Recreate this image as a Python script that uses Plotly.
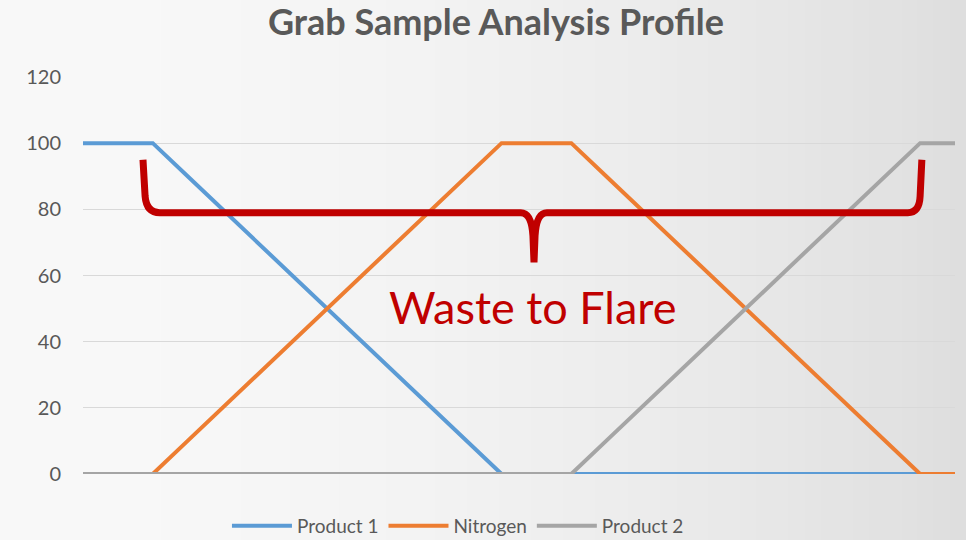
import plotly.graph_objects as go

x_points = list(range(26))
product1 = [100, 100, 100, 90, 80, 70, 60, 50, 40, 30, 20, 10, 0, 0, 0, 0, 0, 0, 0, 0, 0, 0, 0, 0, 0, 0]
nitrogen = [0, 0, 0, 10, 20, 30, 40, 50, 60, 70, 80, 90, 100, 100, 100, 90, 80, 70, 60, 50, 40, 30, 20, 10, 0, 0]
product2 = [0, 0, 0, 0, 0, 0, 0, 0, 0, 0, 0, 0, 0, 0, 0, 10, 20, 30, 40, 50, 60, 70, 80, 90, 100, 100]
series_names = ["Product 1", "Nitrogen", "Product 2"]
series_values = [product1, nitrogen, product2]
series_colors = ["#5B9BD5", "#ED7D31", "#A5A5A5"]
y_ticks = [0, 20, 40, 60, 80, 100, 120]

fig = go.Figure()
for name, vals, col in zip(series_names, series_values, series_colors):
    fig.add_trace(go.Scatter(x=x_points, y=vals, mode="lines", name=name,
                             line=dict(color=col, width=4)))

# background gradient strips
shapes = []
n = 60
x0f, x1f = -0.0952, 1.0126
for i in range(n):
    t = i / (n - 1)
    g = 248 - int(26 * (t ** 1.8))
    xa = x0f + (x1f - x0f) * i / n
    xb = x0f + (x1f - x0f) * (i + 1) / n + 0.002
    shapes.append(dict(type="rect", xref="paper", yref="paper", x0=xa, x1=xb,
                       y0=-0.2, y1=1.25, fillcolor=f"rgb({g},{g},{g})",
                       line=dict(width=0), layer="below"))

# brace
brace = ("M1.72,95 L1.78,84 Q1.82,79 2.2,79 L12.55,79 Q12.86,79 12.9,72 "
         "L12.93,64 L12.96,72 Q13.0,79 13.3,79 L23.65,79 Q23.98,79 24.0,84 L24.05,95")
shapes.append(dict(type="path", xref="x", yref="y", path=brace,
                   line=dict(color="#C00000", width=7)))

fig.update_layout(
    width=966, height=540,
    margin=dict(l=83, r=11, t=77, b=66, autoexpand=False),
    paper_bgcolor="#f4f4f4",
    plot_bgcolor="rgba(0,0,0,0)",
    shapes=shapes,
    title=dict(text="<b>Grab Sample Analysis Profile</b>", x=0.4736, xanchor="center",
               xref="paper", y=0.959, yanchor="middle",
               font=dict(family="Lato", size=36, color="#595959")),
    xaxis=dict(range=[0, 25], showgrid=False, showticklabels=False, zeroline=False,
               showline=False, ticks=""),
    yaxis=dict(range=[0, 120], tickvals=y_ticks, showgrid=True, gridcolor="#d9d9d9",
               gridwidth=1, zeroline=False, showline=False, ticks="",
               tickfont=dict(family="Lato", size=20, color="#595959"), ticklabelstandoff=21),
    legend=dict(orientation="h", x=0.43, xanchor="center", y=-0.131, yanchor="middle",
                font=dict(family="Lato", size=19, color="#595959"), bgcolor="rgba(0,0,0,0)",
                itemwidth=60, tracegroupgap=0),
    annotations=[dict(text="Waste to Flare", x=12.9, y=50.5, xref="x", yref="y",
                      showarrow=False, font=dict(family="Lato", size=45, color="#C00000"))],
    showlegend=True,
)

fig.write_html("out.html", config={"displayModeBar": False},
               post_script="document.body.style.margin='0';document.documentElement.style.overflow='hidden';")
